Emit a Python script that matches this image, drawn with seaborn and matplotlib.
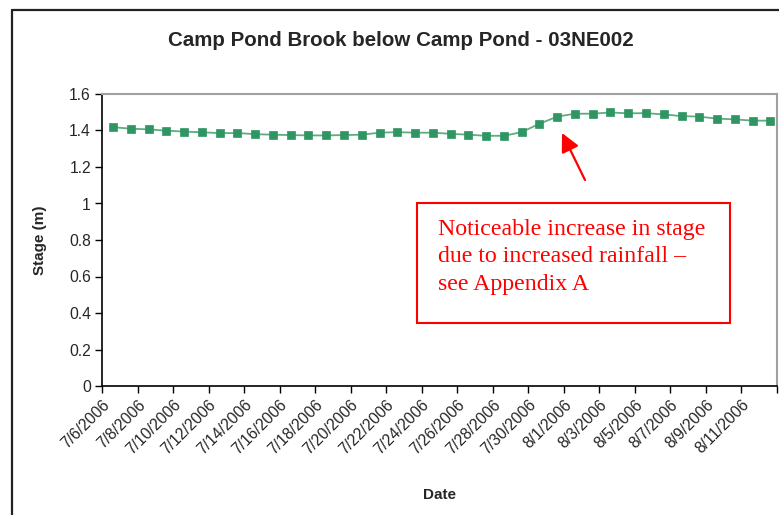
import matplotlib
matplotlib.use("Agg")
import matplotlib.pyplot as plt
from matplotlib.lines import Line2D
from matplotlib.patches import Rectangle
import pandas as pd
import seaborn as sns

# daily stage readings, Camp Pond Brook
dates = pd.date_range("2006-07-06 15:00", "2006-08-12 15:00", freq="D")
stage = [1.418, 1.410, 1.406, 1.399, 1.394, 1.390, 1.386, 1.386, 1.380, 1.377,
         1.375, 1.373, 1.373, 1.375, 1.377, 1.388, 1.391, 1.388, 1.388, 1.382,
         1.377, 1.371, 1.371, 1.391, 1.437, 1.476, 1.492, 1.492, 1.499, 1.494,
         1.495, 1.488, 1.479, 1.476, 1.465, 1.461, 1.454, 1.454]
tick_dates = pd.date_range("2006-07-06", "2006-08-13", freq="2D")
tick_labels = [f"{d.month}/{d.day}/{d.year}" for d in tick_dates[:-1]] + [""]
yticks = [0, 0.2, 0.4, 0.6, 0.8, 1, 1.2, 1.4, 1.6]

df = pd.DataFrame({"Date": dates, "Stage": stage})

sns.set_style("white")
plt.rcParams["font.family"] = ["Liberation Sans", "DejaVu Sans"]

fig = plt.figure(figsize=(7.79, 5.15), dpi=100)
ax = fig.add_axes([102 / 779, 129 / 515, 675 / 779, 292 / 515])

sns.lineplot(data=df, x="Date", y="Stage", ax=ax, color="#5cae80", lw=1.3,
             marker="s", markersize=5.5, markerfacecolor="#2f9663",
             markeredgecolor="#2f9663", markeredgewidth=0.5)

ax.set_xlim(tick_dates[0], tick_dates[-1])
ax.set_ylim(0, 1.6)
ax.set_xticks(tick_dates)
ax.set_xticklabels(tick_labels, rotation=45, ha="right", rotation_mode="anchor",
                   fontsize=11.3)
ax.set_yticks(yticks)
ax.set_yticklabels([f"{v:g}" for v in yticks], fontsize=11.3)
ax.tick_params(axis="both", direction="out", length=5, width=1, color="black",
               bottom=True, left=True, pad=3)

for side in ["left", "bottom"]:
    ax.spines[side].set_color("black")
    ax.spines[side].set_linewidth(1.2)
for side in ["top", "right"]:
    ax.spines[side].set_color("#a0a0a0")
    ax.spines[side].set_linewidth(1.5)

ax.set_xlabel("Date", fontsize=11, fontweight="bold")
ax.set_ylabel("Stage (m)", fontsize=11, fontweight="bold", labelpad=16)
ax.xaxis.set_label_coords(0.5, -0.35)

fig.text(401 / 779, 1 - 40 / 515, "Camp Pond Brook below Camp Pond - 03NE002",
         ha="center", va="center", fontsize=14.8, fontweight="bold")

# outer chart frame (only left and top edges visible)
fig.add_artist(Line2D([11.5 / 779, 11.5 / 779], [0, 1 - 10 / 515],
                      transform=fig.transFigure, color="#222222", lw=1.6))
fig.add_artist(Line2D([11.5 / 779, 1], [1 - 10 / 515, 1 - 10 / 515],
                      transform=fig.transFigure, color="#222222", lw=1.6))

# note box and arrow
fig.add_artist(Rectangle((417 / 779, 1 - 323 / 515), 313 / 779, 120 / 515,
                         transform=fig.transFigure, fill=False,
                         edgecolor="red", lw=1.5))
fig.text(438 / 779, 1 - 257 / 515,
         "Noticeable increase in stage\ndue to increased rainfall \u2013\nsee Appendix A",
         ha="left", va="center", fontsize=17.2, color="red",
         family=["Liberation Serif", "DejaVu Serif"], linespacing=1.4)
ax.annotate("", xy=(562, 515 - 133), xycoords="figure pixels",
            xytext=(585, 515 - 180), textcoords="figure pixels",
            arrowprops=dict(arrowstyle="-|>", color="red", lw=1.6,
                            mutation_scale=28, shrinkA=0, shrinkB=0))

fig.savefig("out.png", dpi=100)
